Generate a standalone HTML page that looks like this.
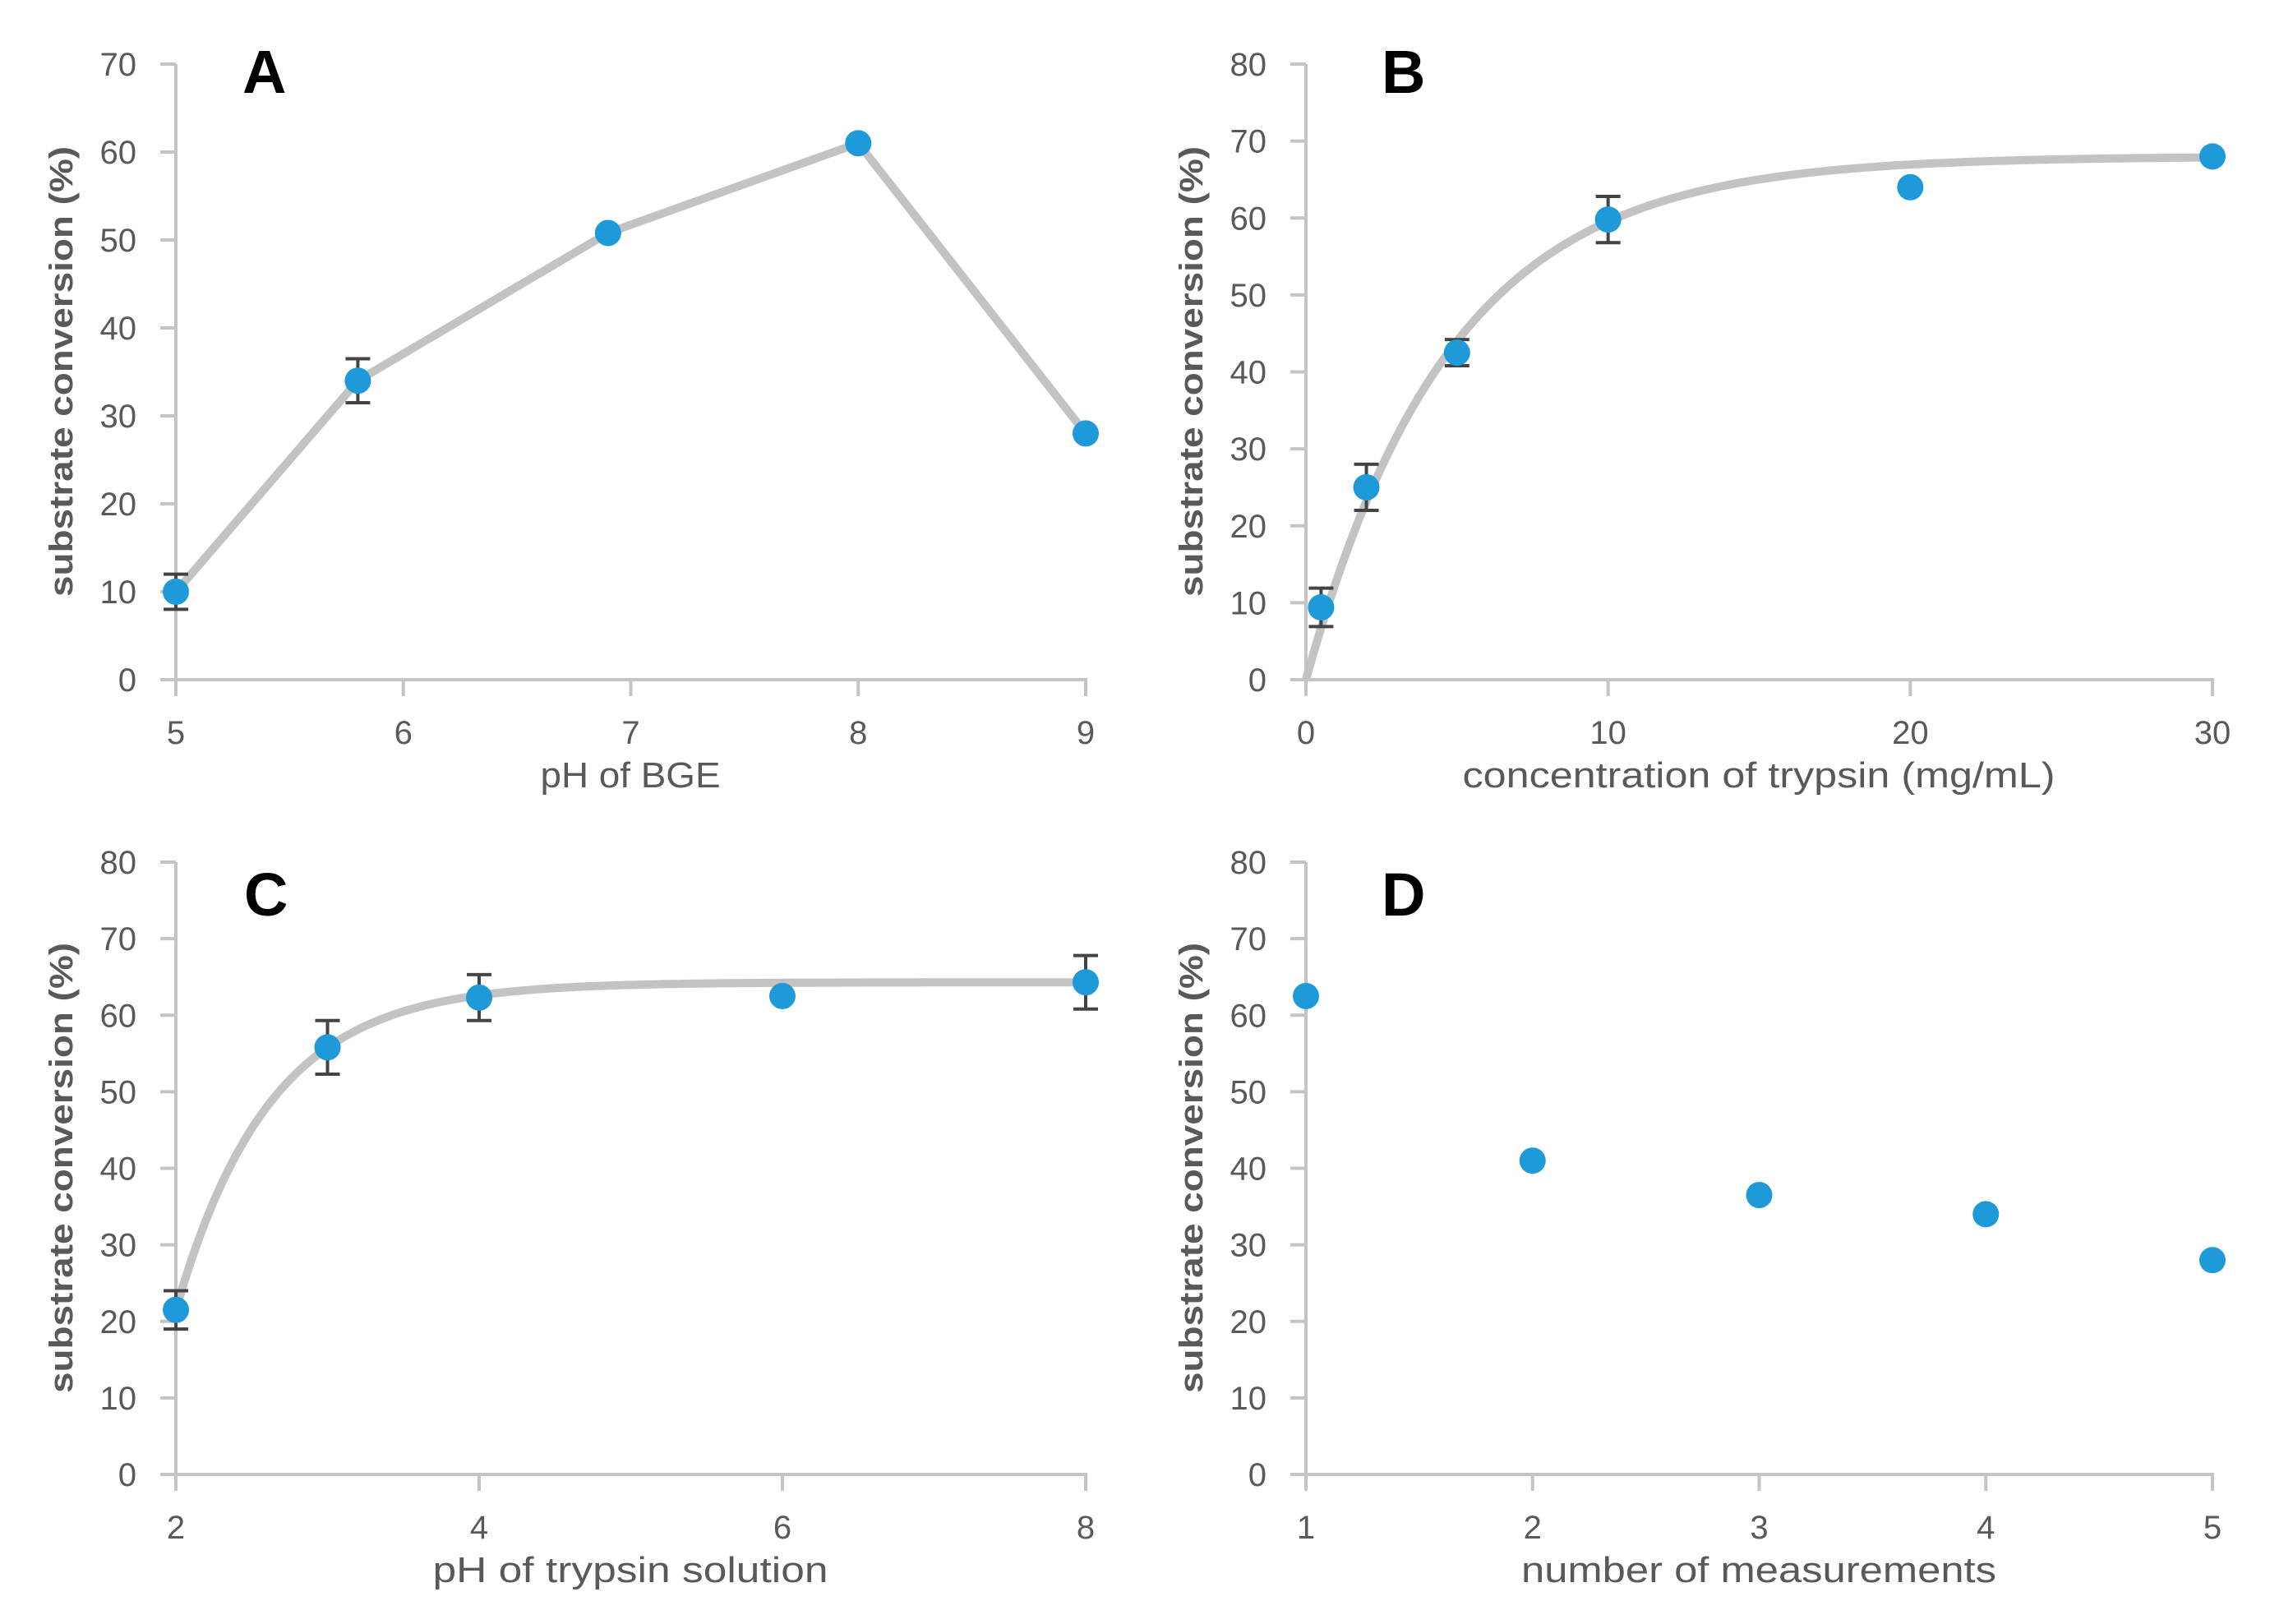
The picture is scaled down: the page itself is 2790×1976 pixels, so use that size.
<!DOCTYPE html>
<html><head><meta charset="utf-8"><style>
html,body{margin:0;padding:0;background:#fff;}
svg{display:block;}
</style></head><body>
<svg id="fig" xmlns="http://www.w3.org/2000/svg" width="2790" height="1976" viewBox="0 0 2790 1976" font-family="Liberation Sans, sans-serif"></svg>
<script>
// Panel A data
const aX = [5, 5.8, 6.9, 8, 9];
const aY = [10, 34, 50.8, 61, 28];
const aErr = [2, 2.5, 0, 0, 0];
const aXTicks = [5, 6, 7, 8, 9];
const aYTicks = [0, 10, 20, 30, 40, 50, 60, 70];
// Panel B data
const bX = [0.5, 2, 5, 10, 20, 30];
const bY = [9.4, 25, 42.5, 59.8, 64, 68];
const bErr = [2.5, 3, 1.7, 3, 0, 0];
const bFit = [68, 4.8];          // asymptote, rate constant
const bXTicks = [0, 10, 20, 30];
const bYTicks = [0, 10, 20, 30, 40, 50, 60, 70, 80];
// Panel C data
const cX = [2, 3, 4, 6, 8];
const cY = [21.5, 55.8, 62.3, 62.5, 64.3];
const cErr = [2.5, 3.5, 3, 0, 3.5];
const cFit = [64.3, 42.8, 0.62]; // plateau, amplitude, rate (offset x=2)
const cXTicks = [2, 4, 6, 8];
const cYTicks = [0, 10, 20, 30, 40, 50, 60, 70, 80];
// Panel D data
const dX = [1, 2, 3, 4, 5];
const dY = [62.5, 41, 36.5, 34, 28];
const dXTicks = [1, 2, 3, 4, 5];
const dYTicks = [0, 10, 20, 30, 40, 50, 60, 70, 80];

const NS = 'http://www.w3.org/2000/svg';
const svg = document.getElementById('fig');
function mk(tag, attrs, parent, text){
  const e = document.createElementNS(NS, tag);
  for (const k in attrs) e.setAttribute(k, attrs[k]);
  if (text !== undefined) e.textContent = text;
  (parent || svg).appendChild(e);
  return e;
}
function scale(d0, d1, r0, r1){ return v => r0 + (v - d0) / (d1 - d0) * (r1 - r0); }

function panel(cfg){
  const g = mk('g', {});
  
  
  const xs = scale(cfg.xd[0], cfg.xd[1], cfg.x0, cfg.x1);
  const ys = scale(0, cfg.ymax, cfg.y0, cfg.y1);
  const ax = mk('g', {stroke:'#c4c4c4', 'stroke-width':4, fill:'none'}, g);
  
  
  mk('line', {x1:cfg.x0, y1:cfg.y0+2, x2:cfg.x0, y2:cfg.y1}, ax);
  mk('line', {x1:cfg.x0-19, y1:cfg.y0, x2:cfg.x1+2, y2:cfg.y0}, ax);
  cfg.yt.forEach(v => {
    const y = ys(v);
    mk('line', {x1:cfg.x0-19, y1:y, x2:cfg.x0, y2:y}, ax);
    const t = mk('text', {x:cfg.x0-48, y:y+14, 'text-anchor':'end', 'font-size':40, fill:'#595959'}, g, String(v));
    
    
  });
  cfg.xt.forEach(v => {
    const x = xs(v);
    mk('line', {x1:x, y1:cfg.y0, x2:x, y2:cfg.y0+20}, ax);
    const t = mk('text', {x:x, y:cfg.y0+78, 'text-anchor':'middle', 'font-size':40, fill:'#595959'}, g, String(v));
    
    
  });
  // line / fit
  if (cfg.path) {
    const p = mk('path', {d:cfg.path(xs, ys), fill:'none', stroke:'#c3c3c3', 'stroke-width':10, 'stroke-linejoin':'round'}, g);
    
    
  }
  // error bars
  cfg.X.forEach((xv, i) => {
    const e = cfg.E ? cfg.E[i] : 0;
    if (!e) return;
    const x = xs(xv), yt = ys(cfg.Y[i] + e), yb = ys(cfg.Y[i] - e);
    const eg = mk('g', {stroke:'#444', 'stroke-width':4}, g);
    
    
    mk('line', {x1:x, y1:yt, x2:x, y2:yb}, eg);
    mk('line', {x1:x-15, y1:yt, x2:x+15, y2:yt}, eg);
    mk('line', {x1:x-15, y1:yb, x2:x+15, y2:yb}, eg);
  });
  cfg.X.forEach((xv, i) => {
    const c = mk('ellipse', {cx:xs(xv), cy:ys(cfg.Y[i]), rx:16, ry:16, fill:'#1e9ad9'}, g);
    
    
  });
  const L = mk('text', {x:cfg.lx, y:cfg.ly, 'font-size':74, 'font-weight':'bold', fill:'#000'}, g, cfg.letter);
  
  
  const yl = mk('text', {x:0, y:0, transform:`translate(${cfg.ylx},${cfg.ylc}) rotate(-90)`, 'text-anchor':'middle', 'font-size':40, 'font-weight':'bold', fill:'#595959', textLength:548, lengthAdjust:'spacingAndGlyphs'}, g, 'substrate conversion (%)');
  
  
  const xl = mk('text', {x:cfg.xlc, y:cfg.y0+131, 'text-anchor':'middle', 'font-size':44, fill:'#595959', textLength:cfg.xlw, lengthAdjust:'spacingAndGlyphs'}, g, cfg.xtitle);
  
  
}

function poly(X, Y){ return (xs, ys) => X.map((v,i)=>(i?'L':'M')+xs(v).toFixed(1)+','+ys(Y[i]).toFixed(1)).join(' '); }

panel({name:'panel-a', letter:'A', lx:295, ly:113, x0:214, x1:1321, y0:827, y1:78, xd:[5,9], ymax:70,
  X:aX, Y:aY, E:aErr, xt:aXTicks, yt:aYTicks, path:poly(aX,aY),
  ylx:88, ylc:452, xlc:767, xlw:219, xtitle:'pH of BGE'});

panel({name:'panel-b', letter:'B', lx:1681, ly:113, x0:1589, x1:2692, y0:827, y1:78, xd:[0,30], ymax:80,
  X:bX, Y:bY, E:bErr, xt:bXTicks, yt:bYTicks,
  path:(xs, ys) => { let d=''; for (let x=0; x<=30.001; x+=0.25){ const y=bFit[0]*(1-Math.exp(-x/bFit[1])); d+=(d?'L':'M')+xs(x).toFixed(1)+','+ys(y).toFixed(1);} return d; },
  ylx:1463, ylc:452, xlc:2140, xlw:721, xtitle:'concentration of trypsin (mg/mL)'});

panel({name:'panel-c', letter:'C', lx:297, ly:1114, x0:214, x1:1321, y0:1794, y1:1049, xd:[2,8], ymax:80,
  X:cX, Y:cY, E:cErr, xt:cXTicks, yt:cYTicks,
  path:(xs, ys) => { let d=''; for (let x=2; x<=8.001; x+=0.05){ const y=cFit[0]-cFit[1]*Math.exp(-(x-2)/cFit[2]); d+=(d?'L':'M')+xs(x).toFixed(1)+','+ys(y).toFixed(1);} return d; },
  ylx:88, ylc:1421, xlc:767, xlw:481, xtitle:'pH of trypsin solution'});

panel({name:'panel-d', letter:'D', lx:1681, ly:1114, x0:1589, x1:2692, y0:1794, y1:1049, xd:[1,5], ymax:80,
  X:dX, Y:dY, E:null, xt:dXTicks, yt:dYTicks, path:null,
  ylx:1463, ylc:1421, xlc:2140, xlw:578, xtitle:'number of measurements'});
</script>
</body></html>
